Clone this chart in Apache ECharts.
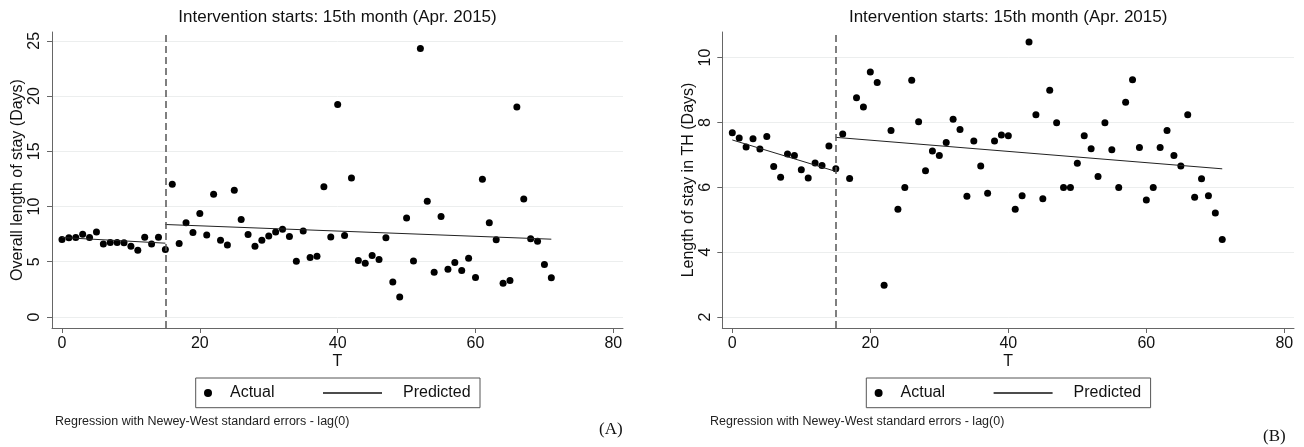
<!DOCTYPE html>
<html>
<head>
<meta charset="utf-8">
<script src="https://cdn.jsdelivr.net/npm/echarts@6/dist/echarts.min.js"></script>
<style>
html,body{margin:0;padding:0;background:#fff;}
#chart{width:1304px;height:447px;}
</style>
</head>
<body>
<div id="chart"></div>
<script>
// ---- data ----
const T = [0,1,2,3,4,5,6,7,8,9,10,11,12,13,14,15,16,17,18,19,20,21,22,23,24,25,26,27,28,29,30,31,32,33,34,35,36,37,38,39,40,41,42,43,44,45,46,47,48,49,50,51,52,53,54,55,56,57,58,59,60,61,62,63,64,65,66,67,68,69,70,71];
const overallLOS = [7.01,7.16,7.19,7.49,7.19,7.70,6.61,6.74,6.74,6.71,
  6.40,6.04,7.22,6.61,7.22,6.10,12.02,6.64,8.52,7.64,
  9.36,7.43,11.11,6.95,6.52,11.47,8.82,7.46,6.40,6.95,
  7.34,7.70,7.94,7.28,5.05,7.79,5.38,5.50,11.78,7.25,
  19.24,7.37,12.59,5.11,4.86,5.56,5.20,7.16,3.17,1.81,
  8.97,5.07,24.31,10.48,4.05,9.09,4.32,4.93,4.20,5.32,
  3.57,12.47,8.52,6.98,3.05,3.30,19.00,10.69,7.07,6.86,
  4.74,3.54];
const thLOS = [7.68,7.52,7.24,7.50,7.18,7.57,6.64,6.31,7.03,6.98,
  6.54,6.29,6.75,6.67,7.27,6.57,7.64,6.27,8.76,8.48,
  9.56,9.23,2.98,7.75,5.32,5.99,9.30,8.02,6.51,7.12,
  6.98,7.38,8.10,7.78,5.72,7.43,6.66,5.82,7.43,7.61,
  7.59,5.32,5.74,10.48,8.24,5.65,8.99,7.99,5.99,5.99,
  6.74,7.59,7.19,6.33,7.99,7.16,5.99,8.62,9.32,7.23,
  5.61,5.99,7.23,7.75,6.98,6.66,8.24,5.69,6.26,5.74,
  5.21,4.39];
const predPreT = [0, 15];
const predPostT = [15, 71];
const predOverallPre = [7.19, 6.68];
const predOverallPost = [8.37, 7.04];
const predTHPre = [7.46, 6.49];
const predTHPost = [7.54, 6.57];
const interventionT = 15;
const xTicks = [0, 20, 40, 60, 80];
const yTicksA = [0, 5, 10, 15, 20, 25];
const yTicksB = [2, 4, 6, 8, 10];
const titleText = 'Intervention starts: 15th month (Apr. 2015)';
const yNameA = 'Overall length of stay (Days)';
const yNameB = 'Length of stay in TH (Days)';
const noteText = 'Regression with Newey-West standard errors - lag(0)';

// ---- helpers ----
const FONT = 'Liberation Sans, Arial, Helvetica, sans-serif';
const zip = (xs, ys) => xs.map((x, i) => [x, ys[i]]);

const panels = [
  {grid: {left: 52, top: 32, width: 571, height: 296}, yMin: -1.0, yMax: 25.8, yTicks: yTicksA, yName: yNameA, yNameGap: 26.5,
   actual: overallLOS, pre: predOverallPre, post: predOverallPost, dx: 0, noteX: 55, tag: '(A)', tagX: 599, tagY: 430},
  {grid: {left: 722.3, top: 32, width: 571.7, height: 296}, yMin: 1.66, yMax: 10.79, yTicks: yTicksB, yName: yNameB, yNameGap: 25,
   actual: thLOS, pre: predTHPre, post: predTHPost, dx: 670.6, noteX: 710, tag: '(B)', tagX: 1263, tagY: 437}
];

const option = {
  animation: false,
  backgroundColor: '#ffffff',
  textStyle: {fontFamily: FONT},
  title: [], grid: [], xAxis: [], yAxis: [], series: [], legend: [], graphic: []
};

panels.forEach((p, k) => {
  const cx = p.grid.left + p.grid.width / 2;
  option.title.push({
    text: titleText, left: cx, top: 9, textAlign: 'center', padding: 0,
    textStyle: {fontFamily: FONT, fontSize: 17, fontWeight: 'normal', color: '#111'}
  });
  option.grid.push(Object.assign({containLabel: false}, p.grid));
  option.xAxis.push({
    type: 'value', gridIndex: k, min: -1.45, max: 81.4,
    name: 'T', nameLocation: 'middle', nameGap: 26, nameMoveOverlap: false,
    nameTextStyle: {fontFamily: FONT, fontSize: 16, color: '#111'},
    axisLine: {show: true, onZero: false, lineStyle: {color: '#666', width: 1}},
    axisTick: {show: true, length: 5, customValues: xTicks, lineStyle: {color: '#666'}},
    axisLabel: {customValues: xTicks, fontFamily: FONT, fontSize: 16, color: '#111', margin: 8},
    splitLine: {show: false}
  });
  option.yAxis.push({
    type: 'value', gridIndex: k, min: p.yMin, max: p.yMax,
    name: p.yName, nameLocation: 'middle', nameGap: p.yNameGap, nameRotate: 90,
    nameTextStyle: {fontFamily: FONT, fontSize: 16, color: '#111'},
    axisLine: {show: true, onZero: false, lineStyle: {color: '#666', width: 1}},
    axisTick: {show: true, length: 5, customValues: p.yTicks, lineStyle: {color: '#666'}},
    axisLabel: {customValues: p.yTicks, rotate: 90, fontFamily: FONT, fontSize: 16, color: '#111', margin: 9},
    splitLine: {show: true, lineStyle: {color: '#eceeee', width: 1}}
  });
  option.series.push({
    type: 'scatter', name: 'Actual', xAxisIndex: k, yAxisIndex: k,
    symbol: 'circle', symbolSize: 7, itemStyle: {color: '#000', opacity: 1},
    data: zip(T, p.actual),
    markLine: {
      silent: true, symbol: ['none', 'none'], label: {show: false},
      lineStyle: {type: [7, 4], color: '#555', width: 1.5},
      data: [{xAxis: interventionT}]
    }
  });
  option.series.push({
    type: 'line', name: 'Predicted', xAxisIndex: k, yAxisIndex: k,
    symbol: 'none', lineStyle: {color: '#222', width: 1}, itemStyle: {color: '#222'},
    data: zip(predPreT, p.pre)
  });
  option.series.push({
    type: 'line', name: 'Predicted', xAxisIndex: k, yAxisIndex: k,
    symbol: 'none', lineStyle: {color: '#222', width: 1}, itemStyle: {color: '#222'},
    data: zip(predPostT, p.post)
  });
  // legend (boxed)
  option.legend.push({
    data: [{name: 'Actual', icon: 'circle'}], left: 204 + p.dx, top: 384, padding: 0,
    itemWidth: 34, itemHeight: 8, symbolKeepAspect: true,
    itemStyle: {opacity: 1},
    textStyle: {fontFamily: FONT, fontSize: 16, color: '#111', lineHeight: 18}
  });
  option.legend.push({
    data: [{name: 'Predicted', icon: 'rect'}], left: 323 + p.dx, top: 384, padding: 0,
    itemWidth: 59, itemHeight: 1.5,
    itemStyle: {color: '#111', opacity: 1},
    textStyle: {fontFamily: FONT, fontSize: 16, color: '#111', lineHeight: 18, padding: [0, 0, 0, 16]}
  });
  option.graphic.push({
    type: 'rect', silent: true,
    shape: {x: 195.7 + p.dx, y: 378, width: 284.3, height: 29.7},
    style: {fill: 'none', stroke: '#555', lineWidth: 1}
  });
  option.graphic.push({
    type: 'text', silent: true, x: p.noteX, y: 421.7,
    style: {text: noteText, font: '12.5px ' + FONT, fill: '#222', textVerticalAlign: 'middle'}
  });
  option.graphic.push({
    type: 'text', silent: true, x: p.tagX, y: p.tagY,
    style: {text: p.tag, font: '17px "Liberation Serif", "Times New Roman", serif', fill: '#111', textVerticalAlign: 'middle'}
  });
});

const chart = echarts.init(document.getElementById('chart'), null, {renderer: 'canvas'});
chart.setOption(option);
</script>
</body>
</html>
